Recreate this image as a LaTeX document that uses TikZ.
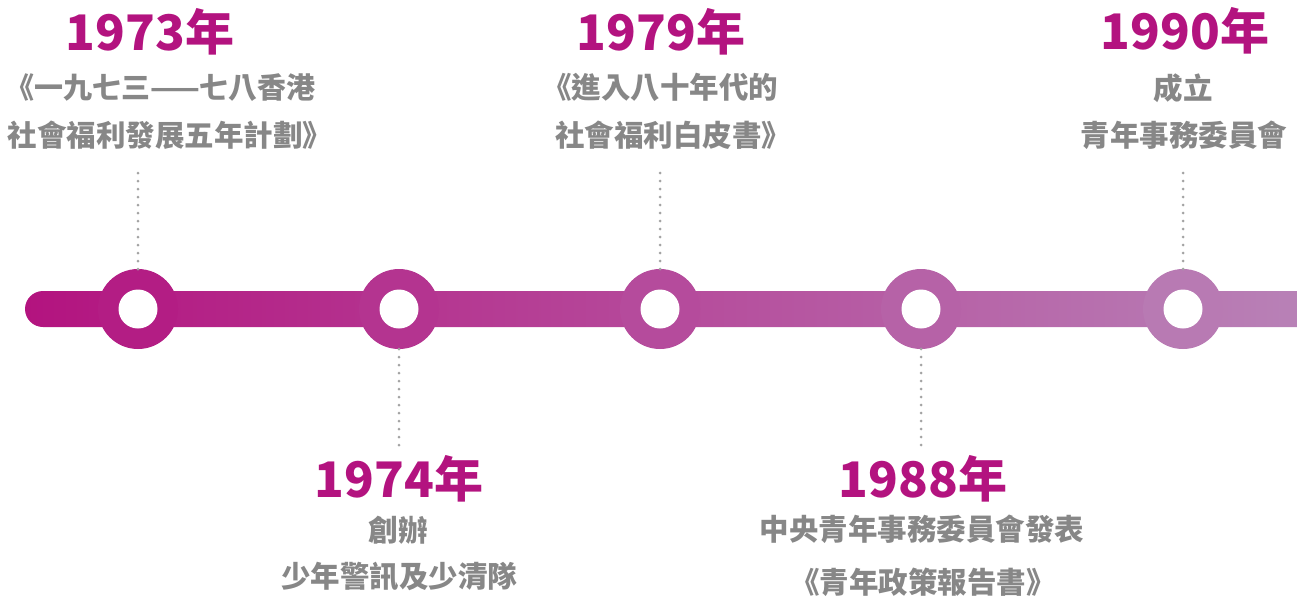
\documentclass[tikz,border=0pt]{standalone}
\usepackage{fontspec}
\newfontfamily\cjk{Noto Sans CJK TC}
\definecolor{barL}{HTML}{B3137F}
\definecolor{barR}{HTML}{B884B8}
\definecolor{yearc}{HTML}{B3137F}
\definecolor{graytxt}{HTML}{878787}
\definecolor{dotc}{HTML}{A3A3A3}
\colorlet{ca}{barR!9!barL}
\colorlet{cb}{barR!29!barL}
\colorlet{cc}{barR!50!barL}
\colorlet{cd}{barR!70!barL}
\colorlet{ce}{barR!91!barL}
\tikzset{
  ring/.style={circle, minimum size=80pt, inner sep=0pt, draw=none},
  hole/.style={circle, minimum size=39pt, inner sep=0pt, fill=white, draw=none},
  yeartxt/.style={font=\cjk\bfseries\fontsize{49}{49}\selectfont, text=yearc, inner sep=0pt, anchor=base},
  desctxt/.style={font=\cjk\bfseries\fontsize{29.5}{29.5}\selectfont, text=graytxt, inner sep=0pt, anchor=base},
  dotline/.style={draw=dotc, line width=3pt, line cap=round, dash pattern=on 0pt off 8pt},
}
\begin{document}
\begin{tikzpicture}[x=1pt,y=-1pt]
\useasboundingbox (0,0) rectangle (1297,598);
% bar
\shade[left color=barL, right color=barR, rounded corners=18pt] (25,291) rectangle (1330,327);
% circles
\node[ring, fill=ca] (c1) at (138,309) {};
\node[ring, fill=cb] (c2) at (399,309) {};
\node[ring, fill=cc] (c3) at (660,309) {};
\node[ring, fill=cd] (c4) at (921,309) {};
\node[ring, fill=ce] (c5) at (1183,309) {};
\node[hole] (h1) at (c1) {};
\node[hole] (h2) at (c2) {};
\node[hole] (h3) at (c3) {};
\node[hole] (h4) at (c4) {};
\node[hole] (h5) at (c5) {};
% dotted connectors
\coordinate (t1) at (138,173);
\coordinate (t3) at (660,173);
\coordinate (t5) at (1183,173);
\coordinate (b2) at (399,445);
\coordinate (b4) at (921,445);
\draw[dotline] (t1) -- ([yshift=-3pt]c1.north);
\draw[dotline] (t3) -- ([yshift=-3pt]c3.north);
\draw[dotline] (t5) -- ([yshift=-3pt]c5.north);
\draw[dotline] (b2) -- ([yshift=3pt]c2.south);
\draw[dotline] (b4) -- ([yshift=3pt]c4.south);
% 1973
\node[yeartxt] (y1) at (150,50) {1973年};
\node[desctxt, font=\cjk\bfseries\fontsize{29}{29}\selectfont] (d1a) at (160.5,98) {《一九七三——七八香港};
\node[desctxt] (d1b) at (170,146) {社會福利發展五年計劃》};
% 1979
\node[yeartxt] (y3) at (661,50) {1979年};
\node[desctxt] (d3a) at (660,98) {《進入八十年代的};
\node[desctxt] (d3b) at (673,146) {社會福利白皮書》};
% 1990
\node[yeartxt] (y5) at (1185,49) {1990年};
\node[desctxt] (d5a) at (1183,99) {成立};
\node[desctxt] (d5b) at (1184,146) {青年事務委員會};
% 1974
\node[yeartxt] (y2) at (399,497) {1974年};
\node[desctxt] (d2a) at (398,541) {創辦};
\node[desctxt] (d2b) at (399,587) {少年警訊及少清隊};
% 1988
\node[yeartxt] (y4) at (923,497) {1988年};
\node[desctxt] (d4a) at (922,540) {中央青年事務委員會發表};
\node[desctxt] (d4b) at (923,593) {《青年政策報告書》};
\end{tikzpicture}
\end{document}
